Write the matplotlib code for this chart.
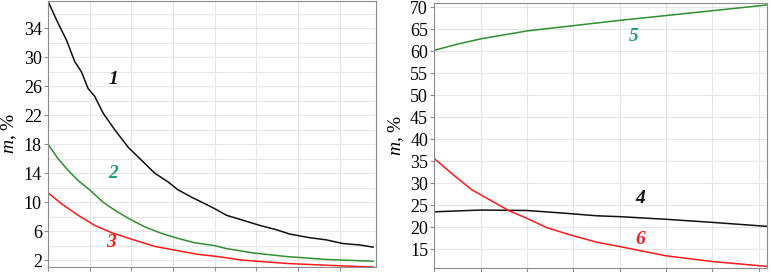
import numpy as np
import matplotlib
matplotlib.use("Agg")
import matplotlib.pyplot as plt

plt.rcParams['font.family'] = ['Liberation Serif', 'DejaVu Serif']
plt.rcParams['mathtext.fontset'] = 'custom'
plt.rcParams['mathtext.it'] = 'Liberation Serif:italic'
plt.rcParams['mathtext.rm'] = 'Liberation Serif'

# left panel
x1 = [0, 0.04, 0.24, 0.44, 0.64, 0.80, 0.96, 1.12, 1.32, 1.60, 1.92, 2.24, 2.56, 2.88,
      3.12, 3.44, 3.76, 4.0, 4.28, 4.68, 5.08, 5.48, 5.80, 6.28, 6.68, 7.07, 7.48, 7.80]
curve1 = [37.8, 37.2, 34.7, 32.4, 29.4, 28.0, 25.7, 24.6, 22.3, 20.0, 17.6, 15.8, 14.0, 12.8,
          11.7, 10.7, 9.8, 9.1, 8.2, 7.5, 6.8, 6.2, 5.6, 5.1, 4.8, 4.3, 4.1, 3.8]
x2 = [0, 0.24, 0.48, 0.72, 1.0, 1.32, 1.6, 1.92, 2.32, 2.72, 3.12, 3.52, 4.0, 4.28, 4.92,
      5.72, 6.68, 7.8]
curve2 = [18.0, 16.0, 14.4, 13.0, 11.7, 10.0, 8.9, 7.8, 6.6, 5.7, 5.0, 4.4, 4.0, 3.6, 3.0,
          2.5, 2.1, 1.85]
x3 = [0, 0.32, 0.72, 1.12, 1.52, 2.0, 2.56, 3.12, 3.6, 4.0, 4.68, 5.72, 6.68, 7.8]
curve3 = [11.3, 9.8, 8.2, 6.8, 5.8, 4.9, 3.9, 3.3, 2.8, 2.55, 2.0, 1.55, 1.3, 1.05]

# right panel
x5 = [0, 0.5, 1.0, 2.0, 3.0, 4.0, 5.0, 6.0, 7.17]
curve5 = [60.2, 61.6, 62.8, 64.6, 65.8, 67.0, 68.1, 69.2, 70.5]
x4 = [0, 0.99, 2.0, 2.79, 3.5, 4.0, 5.0, 6.0, 7.17]
curve4 = [23.5, 23.9, 23.8, 23.2, 22.6, 22.4, 21.8, 21.1, 20.2]
x6 = [0, 0.41, 0.81, 1.2, 1.6, 2.0, 2.43, 2.93, 3.5, 4.0, 5.0, 6.0, 7.17]
curve6 = [35.6, 31.9, 28.5, 26.2, 23.8, 22.0, 19.9, 18.25, 16.6, 15.6, 13.5, 12.2, 11.1]

left_yticks = [2, 6, 10, 14, 18, 22, 26, 30, 34]
right_yticks = [15, 20, 25, 30, 35, 40, 45, 50, 55, 60, 65, 70]

black = "#111111"
green = "#2f8f2f"
green_lbl = "#1f9e78"
red = "#ff1a1a"

fig = plt.figure(figsize=(7.71, 2.72), dpi=100)
ax1 = fig.add_axes([0.0623, 0.0195, 0.4254, 0.978])
ax2 = fig.add_axes([0.5633, 0.0158, 0.4311, 0.974])

ax1.plot(x1, curve1, color=black, lw=1.1)
ax1.plot(x2, curve2, color=green, lw=1.1)
ax1.plot(x3, curve3, color=red, lw=1.1)
ax1.set_xlim(0, 7.87)
ax1.set_ylim(1.1, 37.8)
ax1.set_yticks(left_yticks)
ax1.set_yticks(np.arange(4, 37, 4), minor=True)
ax1.set_xticks(np.arange(0, 8))
lbl = dict(fontsize=14, fontweight="bold", style="italic", ha="center", va="center")
ax1.text(1.56, 26.9, "1", color=black, **lbl)
ax1.text(1.56, 14.0, "2", color=green_lbl, **lbl)
ax1.text(1.52, 4.5, "3", color=red, **lbl)

ax2.plot(x5, curve5, color=green, lw=1.1)
ax2.plot(x4, curve4, color=black, lw=1.1)
ax2.plot(x6, curve6, color=red, lw=1.1)
ax2.set_xlim(0, 7.17)
ax2.set_ylim(10.8, 71.0)
ax2.set_yticks(right_yticks)
ax2.set_xticks(np.arange(0, 8))
ax2.text(4.3, 63.3, "5", color=green_lbl, **lbl)
ax2.text(4.44, 26.6, "4", color=black, **lbl)
ax2.text(4.44, 17.1, "6", color=red, **lbl)

for ax in (ax1, ax2):
    ax.set_xticklabels([])
    ax.grid(True, which="both", color="#e6e6e6", lw=0.8)
    ax.set_axisbelow(True)
    for s in ax.spines.values():
        s.set_color("#8c8c8c")
        s.set_linewidth(0.8)
    ax.tick_params(axis="both", which="major", length=3, color="#8c8c8c", labelsize=13, pad=1.5)
    ax.tick_params(axis="y", which="minor", length=0)
    ax.set_ylabel(r"$m$, %", fontsize=14, labelpad=3)

fig.savefig("out.png", dpi=100)
